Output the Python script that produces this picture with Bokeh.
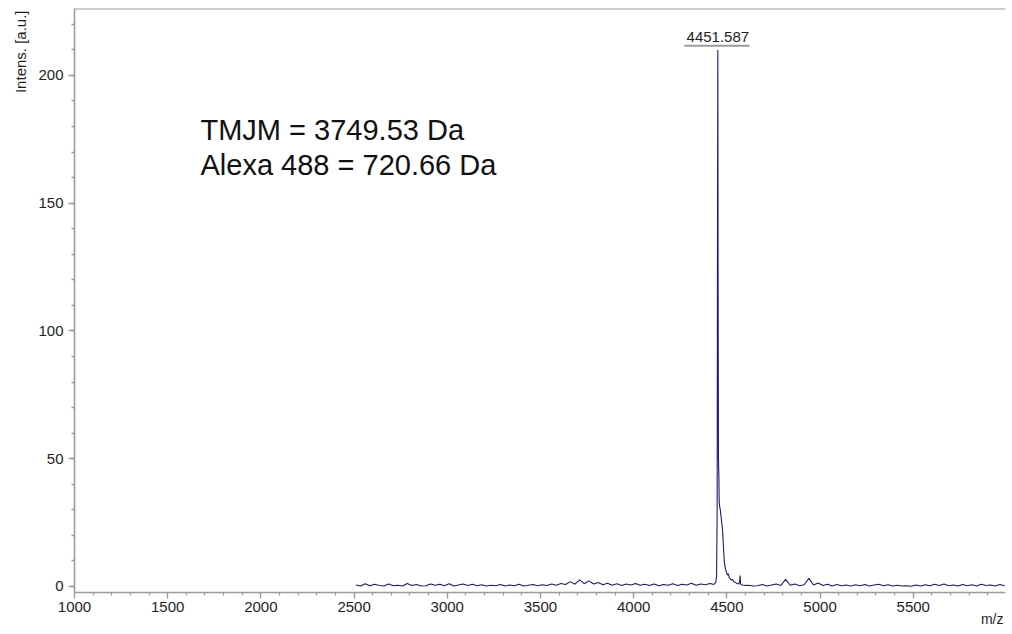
from bokeh.plotting import figure
from bokeh.models import (Range1d, SingleIntervalTicker, Label, Span, ColumnDataSource, Title)
from bokeh.embed import file_html
from bokeh.resources import INLINE

# ---------------- data ----------------
pre_mz = [2510, 2535, 2560, 2585, 2610, 2635, 2660, 2685, 2710, 2735,
          2760, 2785, 2810, 2835, 2860, 2885, 2910, 2935, 2960, 2985,
          3010, 3035, 3060, 3085, 3110, 3135, 3160, 3185, 3210, 3235,
          3260, 3285, 3310, 3335, 3360, 3385, 3410, 3435, 3460, 3485,
          3510, 3535, 3560, 3585, 3610, 3635, 3660, 3685, 3710, 3735,
          3760, 3785, 3810, 3835, 3860, 3885, 3910, 3935, 3960, 3985,
          4010, 4035, 4060, 4085, 4110, 4135, 4160, 4185, 4210, 4235,
          4260, 4285, 4310, 4335, 4360, 4385, 4410]
pre_int = [0.6, 0.2, 1.1, 0.3, 0.9, 0.4, 0.2, 1.0, 0.3, 0.5,
           0.2, 1.2, 0.4, 0.8, 0.2, 0.3, 1.0, 0.5, 0.9, 0.3,
           1.1, 0.2, 0.6, 1.0, 0.4, 0.9, 0.3, 0.7, 0.2, 0.5,
           0.3, 0.8, 0.2, 0.6, 0.3, 0.9, 0.2, 0.5, 0.8, 0.3,
           0.7, 0.4, 1.0, 0.5, 1.2, 0.8, 1.9, 0.9, 2.6, 1.1,
           2.2, 1.0, 1.6, 0.7, 1.3, 0.5, 1.1, 0.4, 1.0, 0.6,
           1.2, 0.5, 0.9, 0.4, 1.0, 0.3, 0.8, 0.5, 1.1, 0.4,
           0.9, 0.6, 1.3, 0.5, 1.0, 0.7, 1.2]

peak_mz = [4430, 4440, 4445, 4448, 4450, 4451.587, 4453, 4455, 4457, 4459,
           4462, 4465, 4468, 4471, 4474, 4477, 4480, 4483, 4486, 4490,
           4494, 4498, 4503, 4508, 4513, 4518, 4524, 4530, 4536, 4542,
           4548, 4555, 4562, 4568, 4571, 4574, 4585, 4600, 4615, 4640]
peak_int = [0.8, 1.5, 4, 30, 150, 210, 120, 50, 44, 33,
            31, 30, 28, 26, 24, 22, 18, 14, 10, 8,
            6.5, 5.5, 4.5, 5, 3.5, 3, 2.5, 2.8, 2, 1.8,
            1.5, 1.2, 1, 1.5, 4.3, 0.8, 0.6, 0.4, 0.5, 0.2]

post_mz = [4665, 4690, 4715, 4740, 4765, 4790, 4815, 4840, 4865, 4890,
           4915, 4940, 4965, 4990, 5015, 5040, 5065, 5090, 5115, 5140,
           5165, 5190, 5215, 5240, 5265, 5290, 5315, 5340, 5365, 5390,
           5415, 5440, 5465, 5490, 5515, 5540, 5565, 5590, 5615, 5640,
           5665, 5690, 5715, 5740, 5765, 5790, 5815, 5840, 5865, 5890,
           5915, 5940, 5965, 5990]
post_int = [0.3, 0.8, 0.2, 0.6, 1.0, 0.4, 2.8, 0.5, 1.0, 0.3,
            0.7, 3.2, 0.6, 1.4, 0.4, 0.9, 0.2, 0.8, 0.3, 0.6,
            0.2, 0.7, 0.3, 0.8, 0.2, 0.6, 0.9, 0.3, 0.7, 0.2,
            0.5, 0.2, 0.3, 0.1, 0.6, 0.2, 0.7, 0.3, 0.9, 0.4,
            1.0, 0.3, 0.6, 0.2, 0.8, 0.3, 0.7, 0.2, 0.9, 0.4,
            0.6, 0.2, 0.8, 0.3]

peak_label_mz = 4451.587
peak_label_int = 210
notes = ["TMJM = 3749.53 Da", "Alexa 488 = 720.66 Da"]
x_label = "m/z"
y_label = "Intens. [a.u.]"

mz = pre_mz + peak_mz + post_mz
intensity = pre_int + peak_int + post_int

# ---------------- figure ----------------
AXIS_GRAY = "#9c9c9c"
TXT = "#1e1e1e"
FONT = "Liberation Sans"

p = figure(width=1012, height=634, output_backend="svg", toolbar_location=None,
           x_range=Range1d(1000, 5995), y_range=Range1d(-2.35, 226.2),
           min_border_left=74, min_border_right=7, min_border_top=8, min_border_bottom=42)
p.outline_line_color = None
p.xgrid.visible = False
p.ygrid.visible = False
p.background_fill_color = "white"
p.border_fill_color = "white"

src = ColumnDataSource(dict(mz=mz, intensity=intensity))
p.line("mz", "intensity", source=src, line_color="#1a1a72", line_width=1.1)

for ax in (p.xaxis[0], p.yaxis[0]):
    ax.axis_line_color = AXIS_GRAY
    ax.axis_line_width = 1.6
    ax.major_tick_line_color = AXIS_GRAY
    ax.minor_tick_line_color = AXIS_GRAY
    ax.major_tick_line_width = 1.3
    ax.minor_tick_line_width = 1.3
    ax.major_tick_in = 0
    ax.minor_tick_in = 0
    ax.major_tick_out = 6
    ax.minor_tick_out = 3
    ax.major_label_text_font = FONT
    ax.major_label_text_font_size = "15px"
    ax.major_label_text_color = TXT

p.xaxis[0].ticker = SingleIntervalTicker(interval=500, num_minor_ticks=5)
p.yaxis[0].ticker = SingleIntervalTicker(interval=50, num_minor_ticks=5)
p.xaxis[0].major_label_standoff = 3
p.yaxis[0].major_label_standoff = 5

# top frame line
p.add_layout(Span(location=226.2, dimension="width", line_color=AXIS_GRAY, line_width=2))

# peak label + underline
p.add_layout(Label(x=peak_label_mz, y=peak_label_int, text=f"{peak_label_mz:.3f}",
                   y_offset=13, text_align="center", text_baseline="alphabetic",
                   text_font=FONT, text_font_size="15px", text_color=TXT))
p.segment(x0=[peak_label_mz - 180], x1=[peak_label_mz + 170],
          y0=[peak_label_int + 1.6], y1=[peak_label_int + 1.6],
          line_color=AXIS_GRAY, line_width=2)

# notes
for i, t in enumerate(notes):
    p.add_layout(Label(x=126, y=463 - 35 * i, x_units="screen", y_units="screen", text=t,
                       text_align="left", text_baseline="alphabetic",
                       text_font=FONT, text_font_size="29px", text_color="#111111"))

# axis labels as side titles
yt = Title(text=y_label, align="right", text_font=FONT, text_font_size="15px",
           text_font_style="normal", text_color=TXT, standoff=14, offset=2)
p.add_layout(yt, "left")
xt = Title(text=x_label, align="right", text_font=FONT, text_font_size="14px",
           text_font_style="normal", text_color=TXT, standoff=-12, offset=2)
p.add_layout(xt, "below")

open("out.html", "w").write(file_html(p, INLINE))
